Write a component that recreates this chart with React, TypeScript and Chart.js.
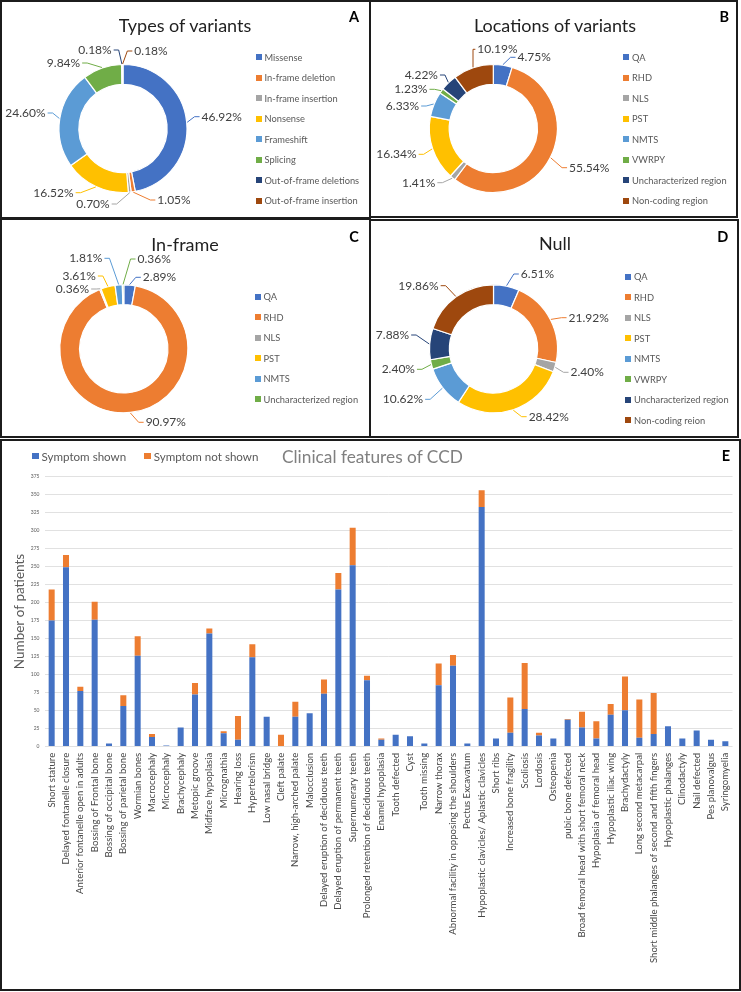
import React, { useEffect, useRef } from 'react';
import { Chart, registerables } from 'chart.js';

Chart.register(...registerables);

const FONT = "Lato, 'Open Sans', 'DejaVu Sans', sans-serif";
const PALETTE = ['#4472C4', '#ED7D31', '#A5A5A5', '#FFC000', '#5B9BD5', '#70AD47', '#264478', '#9E480E'];
const X_LABEL_FONT = `9.6px ${FONT}`;

// ---------- Data ----------
const typeLabels = ['Missense', 'In-frame deletion', 'In-frame insertion', 'Nonsense', 'Frameshift', 'Splicing', 'Out-of-frame deletions', 'Out-of-frame insertion'];
const typeValues = [46.92, 1.05, 0.7, 16.52, 24.6, 9.84, 0.18, 0.18];

const locationLabels = ['QA', 'RHD', 'NLS', 'PST', 'NMTS', 'VWRPY', 'Uncharacterized region', 'Non-coding region'];
const locationValues = [4.75, 55.54, 1.41, 16.34, 6.33, 1.23, 4.22, 10.19];

const inframeLabels = ['QA', 'RHD', 'NLS', 'PST', 'NMTS', 'Uncharacterized region'];
const inframeValues = [2.89, 90.97, 0.36, 3.61, 1.81, 0.36];

const nullLabels = ['QA', 'RHD', 'NLS', 'PST', 'NMTS', 'VWRPY', 'Uncharacterized region', 'Non-coding reion'];
const nullValues = [6.51, 21.92, 2.4, 28.42, 10.62, 2.4, 7.88, 19.86];

const featureLabels = [
  'Short stature', 'Delayed fontanelle closure', 'Anterior fontanelle open in adults', 'Bossing of Frontal bone',
  'Bossing of occipital bone', 'Bossing of parietal bone', 'Wormian bones', 'Macrocephaly', 'Microcephaly',
  'Brachycephaly', 'Metopic groove', 'Midface hypoplasia', 'Micrognathia', 'Hearing loss', 'Hypertelorism',
  'Low nasal bridge', 'Cleft palate', 'Narrow, high-arched palate', 'Malocclusion',
  'Delayed eruption of deciduous teeth', 'Delayed eruption of permanent teeth', 'Supernumerary teeth',
  'Prolonged retention of deciduous teeth', 'Enamel hypoplasia', 'Tooth defected', 'Cyst', 'Tooth missing',
  'Narrow thorax', 'Abnormal facility in opposing the shoulders', 'Pectus Excavatum',
  'Hypoplastic clavicles/ Aplastic clavicles', 'Short ribs', 'Increased bone fragility', 'Scoliosis', 'Lordosis',
  'Osteopenia', 'pubic bone defected', 'Broad femoral head with short femoral neck', 'Hypoplasia of femoral head',
  'Hypoplastic iliac wing', 'Brachydactyly', 'Long second metacarpal',
  'Short middle phalanges of second and fifth fingers', 'Hypoplastic phalanges', 'Clinodactyly', 'Nail defected',
  'Pes planovalgus', 'Syringomyelia',
];
const symptomShown = [
  175, 249, 77, 176, 4, 56, 126, 13, 1, 26, 72, 157, 18, 9, 124, 41, 0, 41, 46, 73, 218, 252, 92, 9,
  16, 14, 4, 85, 112, 4, 333, 11, 19, 52, 15, 11, 37, 26, 11, 44, 50, 12, 17, 28, 11, 22, 9, 7,
];
const symptomNotShown = [
  43, 17, 6, 25, 0, 15, 27, 4, 0, 0, 16, 7, 3, 33, 18, 0, 16, 21, 0, 20, 23, 52, 6, 2,
  0, 0, 0, 30, 15, 0, 23, 0, 49, 64, 4, 0, 1, 22, 24, 15, 47, 53, 57, 0, 0, 0, 0, 0,
];
const yAxisMax = 375;
const yAxisStep = 25;

// ---------- Outside label plugin (positions derived from the arc elements) ----------
const outsideLabelsPlugin = {
  id: 'outsideLabels',
  afterDatasetsDraw(chart: any, _args: any, opts: any) {
    const { ctx } = chart;
    const meta = chart.getDatasetMeta(0);
    const ds = chart.data.datasets[0];
    const colors = ds.backgroundColor as string[];
    ctx.save();
    ctx.font = `12px ${FONT}`;
    ctx.textBaseline = 'middle';
    ctx.textAlign = 'center';
    meta.data.forEach((arc: any, i: number) => {
      const p = arc.getProps(['x', 'y', 'startAngle', 'endAngle', 'outerRadius'], true);
      const mid = (p.startAngle + p.endAngle) / 2;
      const ex = p.x + Math.cos(mid) * (p.outerRadius + 0.5);
      const ey = p.y + Math.sin(mid) * (p.outerRadius + 0.5);
      const text = Number(ds.data[i]).toFixed(2) + '%';
      const w = ctx.measureText(text).width;
      const [dx, dy] = opts.offsets[i];
      const lx = p.x + dx;
      const ly = p.y + dy;
      const left = lx - w / 2;
      const right = lx + w / 2;
      ctx.strokeStyle = colors[i];
      ctx.lineWidth = 1;
      ctx.beginPath();
      ctx.moveTo(ex, ey);
      if (ex < left - 2) {
        const tx = left - 2;
        ctx.lineTo(Math.max(ex, tx - 5), ly);
        ctx.lineTo(tx, ly);
      } else if (ex > right + 2) {
        const tx = right + 2;
        ctx.lineTo(Math.min(ex, tx + 5), ly);
        ctx.lineTo(tx, ly);
      } else {
        ctx.lineTo(ex, ey < ly ? ly - 8 : ly + 8);
      }
      ctx.stroke();
      ctx.fillStyle = '#404040';
      ctx.fillText(text, lx, ly);
    });
    ctx.restore();
  },
};

// ---------- Rotated category labels placed at the x scale's tick pixels ----------
const rotatedXLabelsPlugin = {
  id: 'rotatedXLabels',
  afterDraw(chart: any) {
    const { ctx, chartArea } = chart;
    const xs = chart.scales.x;
    ctx.save();
    ctx.font = X_LABEL_FONT;
    ctx.fillStyle = '#474747';
    ctx.textAlign = 'right';
    ctx.textBaseline = 'middle';
    (chart.data.labels as string[]).forEach((lab, i) => {
      const x = xs.getPixelForTick(i);
      ctx.save();
      ctx.translate(x, chartArea.bottom + 6.5);
      ctx.rotate(-Math.PI / 2);
      ctx.fillText(lab, 0, 0);
      ctx.restore();
    });
    ctx.restore();
  },
};

type Rect = { x: number; y: number; w: number; h: number };

type DonutProps = {
  labels: string[];
  values: number[];
  offsets: [number, number][];
  canvas: Rect;
  center: { x: number; y: number };
  radius: number;
};

function DonutChart({ labels, values, offsets, canvas, center, radius }: DonutProps) {
  const ref = useRef<HTMLCanvasElement>(null);
  useEffect(() => {
    const cx = center.x - canvas.x;
    const cy = center.y - canvas.y;
    const chart = new Chart(ref.current as HTMLCanvasElement, {
      type: 'doughnut',
      data: {
        labels,
        datasets: [
          {
            data: values,
            backgroundColor: PALETTE.slice(0, values.length),
            borderColor: '#ffffff',
            borderWidth: 1.2,
          },
        ],
      },
      options: {
        responsive: false,
        animation: false,
        events: [],
        cutout: '69%',
        radius,
        layout: {
          padding: {
            left: cx - radius,
            top: cy - radius,
            right: canvas.w - cx - radius,
            bottom: canvas.h - cy - radius,
          },
        },
        plugins: {
          legend: { display: false },
          title: { display: false },
          tooltip: { enabled: false },
          outsideLabels: { offsets },
        } as any,
      } as any,
      plugins: [outsideLabelsPlugin as any],
    });
    return () => chart.destroy();
  }, []);
  return (
    <canvas
      ref={ref}
      width={canvas.w}
      height={canvas.h}
      style={{ position: 'absolute', left: canvas.x, top: canvas.y, width: canvas.w, height: canvas.h }}
    />
  );
}

function HtmlLegend({ items, x, y0, step, fontSize }: { items: string[]; x: number; y0: number; step: number; fontSize: number }) {
  return (
    <>
      {items.map((t, i) => (
        <div
          key={t}
          style={{
            position: 'absolute',
            left: x,
            top: y0 + i * step - 8,
            height: 16,
            display: 'flex',
            alignItems: 'center',
            whiteSpace: 'nowrap',
            fontFamily: FONT,
            fontSize,
            color: '#595959',
          }}
        >
          <span style={{ display: 'inline-block', width: 6, height: 6, background: PALETTE[i], marginRight: 3 }} />
          {t}
        </div>
      ))}
    </>
  );
}

function CenterText({ text, x, y, size, color, bold }: { text: string; x: number; y: number; size: number; color: string; bold?: boolean }) {
  return (
    <div
      style={{
        position: 'absolute',
        left: x - 200,
        width: 400,
        top: y - size,
        height: size * 2,
        lineHeight: `${size * 2}px`,
        textAlign: 'center',
        fontFamily: FONT,
        fontSize: size,
        fontWeight: bold ? 700 : 400,
        color,
        whiteSpace: 'nowrap',
      }}
    >
      {text}
    </div>
  );
}

function LeftText({ text, x, y, size, color, bold }: { text: string; x: number; y: number; size: number; color: string; bold?: boolean }) {
  return (
    <div
      style={{
        position: 'absolute',
        left: x,
        top: y - size,
        height: size * 2,
        lineHeight: `${size * 2}px`,
        fontFamily: FONT,
        fontSize: size,
        fontWeight: bold ? 700 : 400,
        color,
        whiteSpace: 'nowrap',
      }}
    >
      {text}
    </div>
  );
}

function Box({ x, y, w, h }: Rect) {
  return (
    <div
      style={{
        position: 'absolute',
        left: x,
        top: y,
        width: w,
        height: h,
        boxSizing: 'border-box',
        border: '2px solid #1c1c1c',
        pointerEvents: 'none',
      }}
    />
  );
}

function FeaturesChart() {
  const ref = useRef<HTMLCanvasElement>(null);
  const canvas = { x: 3, y: 442, w: 735, h: 546 };
  useEffect(() => {
    const chart = new Chart(ref.current as HTMLCanvasElement, {
      type: 'bar',
      data: {
        labels: featureLabels,
        datasets: [
          { label: 'Symptom shown', data: symptomShown, backgroundColor: '#4472C4', stack: 's' },
          { label: 'Symptom not shown', data: symptomNotShown, backgroundColor: '#ED7D31', stack: 's' },
        ],
      },
      options: {
        responsive: false,
        animation: false,
        events: [],
        layout: { padding: { left: 0, top: 34.7, right: 5.5, bottom: 0 } },
        datasets: { bar: { categoryPercentage: 1, barPercentage: 0.42 } },
        plugins: {
          legend: { display: false },
          title: { display: false },
          tooltip: { enabled: false },
        },
        scales: {
          x: {
            stacked: true,
            grid: { display: false, drawTicks: false },
            border: { display: false },
            ticks: { display: false, autoSkip: false },
            afterFit: (s: any) => {
              s.height = 241.7;
            },
          },
          y: {
            stacked: true,
            min: 0,
            max: yAxisMax,
            ticks: { stepSize: yAxisStep, padding: 5, color: '#595959', font: { family: FONT, size: 5 } },
            grid: { color: '#d9d9d9', drawTicks: false, lineWidth: 0.8 },
            border: { display: false },
            title: {
              display: true,
              text: 'Number of patients',
              color: '#595959',
              font: { family: FONT, size: 13.5 },
              padding: { top: 9, bottom: 0 },
            },
            afterFit: (s: any) => {
              s.width = 41.5;
            },
          },
        },
      } as any,
      plugins: [rotatedXLabelsPlugin as any],
    });
    return () => chart.destroy();
  }, []);
  return (
    <canvas
      ref={ref}
      width={canvas.w}
      height={canvas.h}
      style={{ position: 'absolute', left: canvas.x, top: canvas.y, width: canvas.w, height: canvas.h }}
    />
  );
}

export default function App() {
  const titleColor = '#1f1f1f';
  const legendSize = 9.3;
  return (
    <div style={{ position: 'absolute', left: 0, top: 0, width: 741, height: 992, background: '#ffffff', overflow: 'hidden' }}>
      {/* Panel A */}
      <DonutChart
        labels={typeLabels}
        values={typeValues}
        canvas={{ x: 3, y: 3, w: 365, h: 213 }}
        center={{ x: 123, y: 128.5 }}
        radius={64}
        offsets={[[98.7, -11.8], [51, 71.5], [-30, 75.5], [-69.5, 64.2], [-97.5, -15.5], [-59.5, -65.5], [-28, -78.5], [28, -77.5]]}
      />
      <CenterText text="Types of variants" x={185} y={25} size={18} color={titleColor} />
      <CenterText text="A" x={354} y={16.7} size={14.5} color="#000" bold />
      <HtmlLegend items={typeLabels} x={255.5} y0={57.3} step={20.5} fontSize={legendSize} />

      {/* Panel B */}
      <DonutChart
        labels={locationLabels}
        values={locationValues}
        canvas={{ x: 372, y: 3, w: 363, h: 212 }}
        center={{ x: 493.3, y: 128.5 }}
        radius={64}
        offsets={[[40.9, -71.2], [95.9, 39.2], [-74.6, 54.2], [-96.8, 25.8], [-90.8, -22.5], [-82.5, -39.2], [-72, -53.5], [4.2, -79.2]]}
      />
      <CenterText text="Locations of variants" x={555} y={25} size={18} color={titleColor} />
      <CenterText text="B" x={724.3} y={16.7} size={14.5} color="#000" bold />
      <HtmlLegend items={locationLabels} x={623} y0={57.3} step={20.5} fontSize={legendSize} />

      {/* Panel C */}
      <DonutChart
        labels={inframeLabels}
        values={inframeValues}
        canvas={{ x: 3, y: 221, w: 365, h: 214 }}
        center={{ x: 123.8, y: 348.8 }}
        radius={64}
        offsets={[[35.7, -71.5], [42, 73.5], [-51.3, -59.8], [-44.6, -72.8], [-38, -90.5], [30.4, -89.8]]}
      />
      <CenterText text="In-frame" x={185} y={244.3} size={18} color={titleColor} />
      <CenterText text="C" x={354} y={236.7} size={14.5} color="#000" bold />
      <HtmlLegend items={inframeLabels} x={254.5} y0={296.7} step={20.5} fontSize={legendSize} />

      {/* Panel D */}
      <DonutChart
        labels={nullLabels}
        values={nullValues}
        canvas={{ x: 372, y: 222, w: 364, h: 213 }}
        center={{ x: 493.5, y: 348.8 }}
        radius={64}
        offsets={[[44, -74.8], [95.2, -31.1], [93.7, 23.5], [55.3, 67.9], [-90.5, 50.5], [-95.2, 20.5], [-101, -13.8], [-75, -63.1]]}
      />
      <CenterText text="Null" x={555} y={243.3} size={18} color={titleColor} />
      <CenterText text="D" x={722.7} y={236.7} size={14.5} color="#000" bold />
      <HtmlLegend items={nullLabels} x={625} y0={276.7} step={20.5} fontSize={legendSize} />

      {/* Panel E */}
      <FeaturesChart />
      <div
        style={{
          position: 'absolute',
          left: 32,
          top: 447,
          height: 18,
          display: 'flex',
          alignItems: 'center',
          fontFamily: FONT,
          fontSize: 11.6,
          color: '#595959',
          whiteSpace: 'nowrap',
        }}
      >
        <span style={{ display: 'inline-block', width: 6.5, height: 6.5, background: '#4472C4', marginRight: 3 }} />
        <span style={{ marginRight: 18 }}>Symptom shown</span>
        <span style={{ display: 'inline-block', width: 6.5, height: 6.5, background: '#ED7D31', marginRight: 3 }} />
        <span>Symptom not shown</span>
      </div>
      <LeftText text="Clinical features of CCD" x={282} y={457} size={17.3} color="#808080" />
      <CenterText text="E" x={726} y={455} size={14.5} color="#000" bold />

      <Box x={0} y={0} w={371} h={219} />
      <Box x={369} y={0} w={369} h={218} />
      <Box x={0} y={218} w={371} h={220} />
      <Box x={369} y={219} w={370} h={219} />
      <Box x={0} y={439} w={741} h={552} />
    </div>
  );
}
